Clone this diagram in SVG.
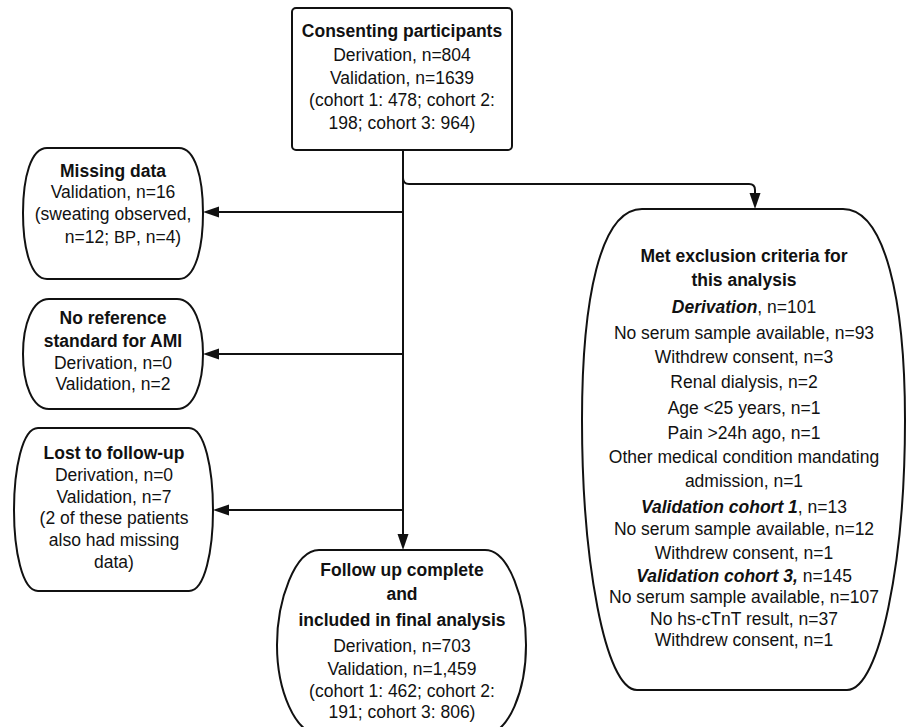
<svg xmlns="http://www.w3.org/2000/svg" width="907" height="727" viewBox="0 0 907 727">
<style>
.box{fill:#fff;stroke:#111;stroke-width:2}
.con{fill:none;stroke:#111;stroke-width:2}
text{font-family:"Liberation Sans",Arial,sans-serif;font-size:17.5px;fill:#111;text-anchor:middle}
.b{font-weight:bold}
.bi{font-weight:bold;font-style:italic}
</style>
<defs>
<marker id="arr" markerUnits="userSpaceOnUse" markerWidth="16" markerHeight="12" refX="12" refY="5.5" orient="auto">
<path d="M0,0 L16,5.5 L0,11 Z" fill="#111"/>
</marker>
</defs>
<rect width="907" height="727" fill="#fff"/>
<g id="connectors">
<path class="con" d="M403,150 V546" marker-end="url(#arr)"/>
<path class="con" d="M403,178 Q403,184 409,184 H749 Q755,184 755,190 V205" marker-end="url(#arr)"/>
<path class="con" d="M403,212 H207" marker-end="url(#arr)"/>
<path class="con" d="M403,354 H207" marker-end="url(#arr)"/>
<path class="con" d="M403,510 H217" marker-end="url(#arr)"/>
</g>
<g id="consenting">
<rect class="box" x="292" y="8" width="220" height="142" rx="4"/>
<text x="402" y="37" class="b">Consenting participants</text>
<text x="402" y="61">Derivation, n=804</text>
<text x="402" y="84">Validation, n=1639</text>
<text x="402" y="106">(cohort 1: 478; cohort 2:</text>
<text x="402" y="129">198; cohort 3: 964)</text>
</g>
<g id="missing">
<path class="box" d="M47,148 H179 C195,148 203,177 203,213 C203,249 195,279 179,279 H47 C31,279 23,249 23,213 C23,177 31,148 47,148 Z"/>
<text x="113" y="177" class="b">Missing data</text>
<text x="113" y="198">Validation, n=16</text>
<text x="113" y="220">(sweating observed,</text>
<text x="123" y="243">n=12; <tspan font-size="16.5">BP</tspan>, n=4)</text>
</g>
<g id="noref">
<path class="box" d="M49,299 H177 C194,299 203,325 203,354 C203,383 194,409 177,409 H49 C32,409 23,383 23,354 C23,325 32,299 49,299 Z"/>
<text x="113" y="324" class="b">No reference</text>
<text x="113" y="347" class="b">standard for AMI</text>
<text x="113" y="369">Derivation, n=0</text>
<text x="113" y="390">Validation, n=2</text>
</g>
<g id="lost">
<path class="box" d="M38,428 H189 C205,428 213,470 213,510 C213,550 205,591 189,591 H38 C22,591 14,550 14,510 C14,470 22,428 38,428 Z"/>
<text x="114" y="459" class="b">Lost to follow-up</text>
<text x="114" y="481">Derivation, n=0</text>
<text x="114" y="503">Validation, n=7</text>
<text x="114" y="524">(2 of these patients</text>
<text x="114" y="546">also had missing</text>
<text x="114" y="568">data)</text>
</g>
<g id="final">
<path class="box" d="M319,550 H485 C509,550 526,600 526,645 C526,690 509,734 485,734 H319 C295,734 277,690 277,645 C277,600 295,550 319,550 Z"/>
<text x="402" y="576" class="b">Follow up complete</text>
<text x="402" y="600" class="b">and</text>
<text x="402" y="626" class="b">included in final analysis</text>
<text x="402" y="652">Derivation, n=703</text>
<text x="402" y="675">Validation, n=1,459</text>
<text x="402" y="697">(cohort 1: 462; cohort 2:</text>
<text x="402" y="718">191; cohort 3: 806)</text>
</g>
<g id="exclusion">
<path class="box" d="M642,209 H843 C885,209 905,300 905,420 C905,560 880,690 847,690 H637 C605,690 582,560 582,420 C582,300 600,209 642,209 Z"/>
<text x="744" y="262" class="b">Met exclusion criteria for</text>
<text x="744" y="286" class="b">this analysis</text>
<text x="744" y="313"><tspan class="bi">Derivation</tspan>, n=101</text>
<text x="744" y="339">No serum sample available, n=93</text>
<text x="744" y="363">Withdrew consent, n=3</text>
<text x="744" y="388">Renal dialysis, n=2</text>
<text x="744" y="414">Age &lt;25 years, n=1</text>
<text x="744" y="439">Pain &gt;24h ago, n=1</text>
<text x="744" y="463">Other medical condition mandating</text>
<text x="744" y="487">admission, n=1</text>
<text x="744" y="513"><tspan class="bi">Validation cohort 1</tspan>, n=13</text>
<text x="744" y="535">No serum sample available, n=12</text>
<text x="744" y="559">Withdrew consent, n=1</text>
<text x="744" y="582"><tspan class="bi">Validation cohort 3,</tspan> n=145</text>
<text x="744" y="603">No serum sample available, n=107</text>
<text x="744" y="625">No hs-cTnT result, n=37</text>
<text x="744" y="646">Withdrew consent, n=1</text>
</g>
</svg>
